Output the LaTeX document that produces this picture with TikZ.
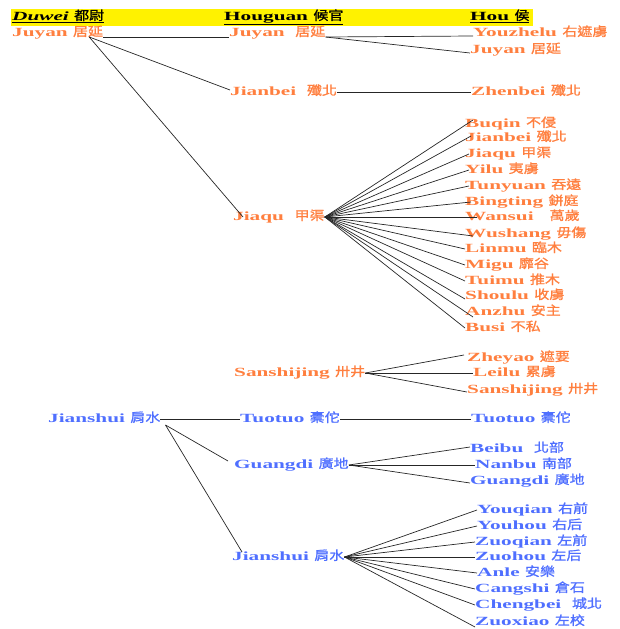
\documentclass[tikz,border=0pt]{standalone}
\usepackage{fontspec}
\setmainfont{Liberation Serif}[FakeStretch=1.7]
\newfontfamily\cjk{Noto Sans CJK TC}[FakeStretch=1.2,FakeBold=1.2]
\newcommand{\zh}[1]{{\cjk\mdseries #1}}
\usepackage{tikz}
\usetikzlibrary{positioning}
\definecolor{JuyanOrange}{HTML}{FF7F3F}
\definecolor{JianshuiBlue}{HTML}{4F6FFF}

\begin{document}
\begin{tikzpicture}[x=1pt, y=-1pt,
  lbl/.style={anchor=west, inner sep=0pt, text height=9pt, text depth=3pt, font=\bfseries\fontsize{12.5}{14}\selectfont},
  hd/.style={lbl, text=black},
  jyt/.style={lbl, text=JuyanOrange},
  jst/.style={lbl, text=JianshuiBlue},
  link/.style={draw=black!85, line width=0.7pt}]
\useasboundingbox (0,0) rectangle (620,629);
\fill[yellow] (11,9) rectangle (533,26);
% column heads
\node[hd] (hdw) at (12,17)  {\underline{{\itshape Duwei} \zh{都尉}}};
\node[hd] (hhg) at (224,17) {\underline{Houguan \zh{候官}}};
\node[hd] (hh)  at (470,17) {\underline{Hou \zh{侯}}};
% Juyan
\node[jyt] (dw1) at (12,33)  {Juyan \zh{居延}};
\node[jyt] (hg1) at (229,33) {Juyan\ \ \zh{居延}};
\node[jyt] (h1)  at (473,33) {Youzhelu \zh{右遮虜}};
\node[jyt] (h2)  at (470,50) {Juyan \zh{居延}};
\node[jyt] (hg2) at (230,92) {Jianbei\ \ \zh{殲北}};
\node[jyt] (h3)  at (471,92) {Zhenbei \zh{殲北}};
\node[jyt] (hg3) at (233,217) {Jiaqu\ \ \zh{甲渠}};
\node[jyt] (q1)  at (465,124) {Buqin \zh{不侵}};
\node[jyt] (q2)  at (465,138) {Jianbei \zh{殲北}};
\node[jyt] (q3)  at (465,154) {Jiaqu \zh{甲渠}};
\node[jyt] (q4)  at (465,170) {Yilu \zh{夷虜}};
\node[jyt] (q5)  at (465,186) {Tunyuan \zh{吞遠}};
\node[jyt] (q6)  at (465,202) {Bingting \zh{鉼庭}};
\node[jyt] (q7)  at (465,217) {Wansui\ \ \ \zh{萬歲}};
\node[jyt] (q8)  at (465,234) {Wushang \zh{毋傷}};
\node[jyt] (q9)  at (465,249) {Linmu \zh{臨木}};
\node[jyt] (q10) at (465,265) {Migu \zh{靡谷}};
\node[jyt] (q11) at (465,281) {Tuimu \zh{推木}};
\node[jyt] (q12) at (465,296) {Shoulu \zh{收虜}};
\node[jyt] (q13) at (465,312) {Anzhu \zh{安主}};
\node[jyt] (q14) at (465,328) {Busi \zh{不私}};
\node[jyt] (hg4) at (234,373) {Sanshijing \zh{卅井}};
\node[jyt] (s1)  at (467,358) {Zheyao \zh{遮要}};
\node[jyt] (s2)  at (473,373) {Leilu \zh{累虜}};
\node[jyt] (s3)  at (467,390) {Sanshijing \zh{卅井}};
% Jianshui
\node[jst] (dw2) at (48,419)  {Jianshui \zh{肩水}};
\node[jst] (hg5) at (240,419) {Tuotuo \zh{橐佗}};
\node[jst] (h4)  at (471,419) {Tuotuo \zh{橐佗}};
\node[jst] (hg6) at (234,465) {Guangdi \zh{廣地}};
\node[jst] (g1)  at (470,449) {Beibu\ \ \zh{北部}};
\node[jst] (g2)  at (475,465) {Nanbu \zh{南部}};
\node[jst] (g3)  at (470,481) {Guangdi \zh{廣地}};
\node[jst] (hg7) at (232,557) {Jianshui \zh{肩水}};
\node[jst] (j1)  at (477,510) {Youqian \zh{右前}};
\node[jst] (j2)  at (477,526) {Youhou \zh{右后}};
\node[jst] (j3)  at (475,542) {Zuoqian \zh{左前}};
\node[jst] (j4)  at (475,557) {Zuohou \zh{左后}};
\node[jst] (j5)  at (477,573) {Anle \zh{安樂}};
\node[jst] (j6)  at (475,589) {Cangshi \zh{倉石}};
\node[jst] (j7)  at (475,605) {Chengbei\ \ \zh{城北}};
\node[jst] (j8)  at (475,622) {Zuoxiao \zh{左校}};
% Juyan links
\draw[link] ([yshift=-4pt]dw1.east) -- ([yshift=-4pt]hg1.west);
\draw[link] ([xshift=-14pt,yshift=-4pt]dw1.east) -- ([yshift=2pt]hg2.west);
\draw[link] ([xshift=-14pt,yshift=-4pt]dw1.east) -- ([xshift=10pt]hg3.west);
\draw[link] ([yshift=-4pt]hg1.east) -- ([yshift=-3pt]h1.west);
\draw[link] ([yshift=-4pt]hg1.east) -- ([yshift=-3pt]h2.west);
\draw[link] (hg2.east) -- (h3.west);
\draw[link] (hg3.east) -- ([xshift=8pt,yshift=4pt]q1.west);
\draw[link] (hg3.east) -- ([xshift=6pt,yshift=2pt]q2.west);
\draw[link] (hg3.east) -- ([xshift=4pt]q3.west);
\draw[link] (hg3.east) -- ([xshift=4pt]q4.west);
\draw[link] (hg3.east) -- ([xshift=4pt]q5.west);
\draw[link] (hg3.east) -- ([xshift=6pt]q6.west);
\draw[link] (hg3.east) -- ([xshift=12pt]q7.west);
\draw[link] (hg3.east) -- ([xshift=8pt,yshift=-2pt]q8.west);
\draw[link] (hg3.east) -- (q9.west);
\draw[link] (hg3.east) -- (q10.west);
\draw[link] (hg3.east) -- (q11.west);
\draw[link] (hg3.east) -- ([yshift=-3pt]q12.west);
\draw[link] (hg3.east) -- ([xshift=8pt,yshift=-5pt]q13.west);
\draw[link] (hg3.east) -- (q14.west);
\draw[link] (hg4.east) -- ([xshift=-3pt,yshift=3pt]s1.west);
\draw[link] (hg4.east) -- (s2.west);
\draw[link] (hg4.east) -- ([yshift=-2pt]s3.west);
% Jianshui links
\draw[link] (dw2.east) -- (hg5.west);
\draw[link] (hg5.east) -- (h4.west);
\draw[link] ([xshift=5pt,yshift=-6pt]dw2.east) -- ([xshift=-6pt,yshift=4pt]hg6.west);
\draw[link] ([xshift=5pt,yshift=-6pt]dw2.east) -- ([xshift=10pt,yshift=5pt]hg7.west);
\draw[link] (hg6.east) -- ([yshift=2pt]g1.west);
\draw[link] (hg6.east) -- (g2.west);
\draw[link] (hg6.east) -- ([yshift=-2pt]g3.west);
\draw[link] (hg7.east) -- (j1.west);
\draw[link] (hg7.east) -- (j2.west);
\draw[link] (hg7.east) -- (j3.west);
\draw[link] (hg7.east) -- (j4.west);
\draw[link] (hg7.east) -- (j5.west);
\draw[link] (hg7.east) -- (j6.west);
\draw[link] (hg7.east) -- (j7.west);
\draw[link] (hg7.east) -- ([yshift=-5pt]j8.west);
\end{tikzpicture}
\end{document}
